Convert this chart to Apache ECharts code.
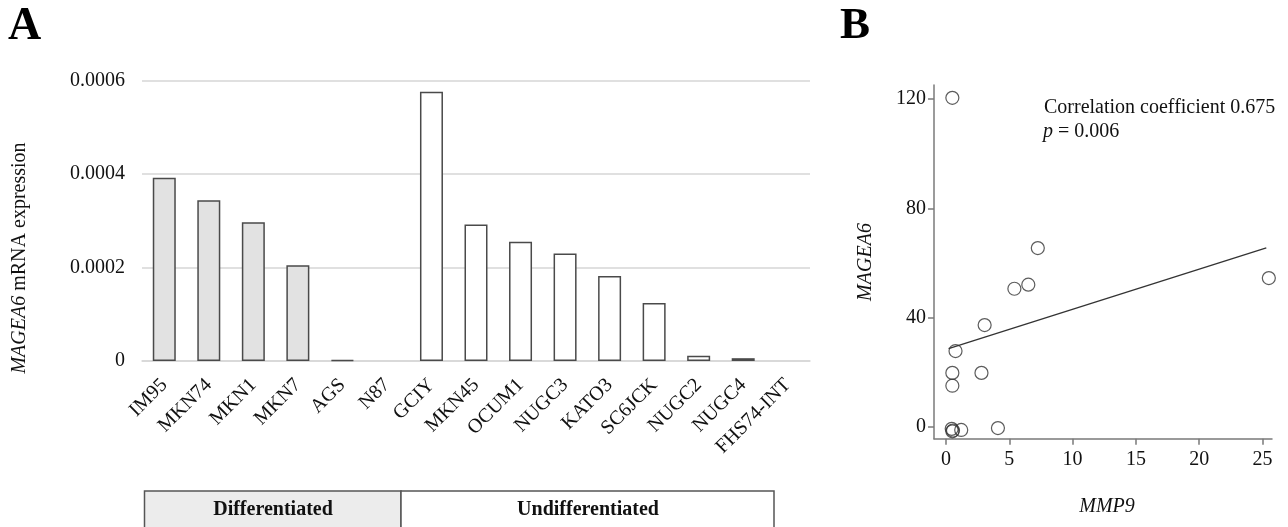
<!DOCTYPE html>
<html>
<head>
<meta charset="utf-8">
<script src="https://cdn.jsdelivr.net/npm/echarts@6/dist/echarts.min.js"></script>
<style>
  html, body { margin: 0; padding: 0; background: #fff; }
  #chart { width: 1288px; height: 527px; }
</style>
</head>
<body>
<div id="chart"></div>
<script>
// panel A: MAGEA6 mRNA in gastric cancer cell lines
const cellLines = ['IM95', 'MKN74', 'MKN1', 'MKN7', 'AGS', 'N87', 'GCIY', 'MKN45', 'OCUM1', 'NUGC3', 'KATO3', 'SC6JCK', 'NUGC2', 'NUGC4', 'FHS74-INT']
const expression = [0.000392, 0.000344, 0.000297, 0.000205, 0.000002, 0, 0.000576, 0.000292, 0.000255, 0.00023, 0.000182, 0.000124, 0.000011, 0.000006, 0]
const differentiatedCount = 6 // first 6 lines are differentiated
const groupLabels = ['Differentiated', 'Undifferentiated']

// panel B: MMP9 vs MAGEA6
const mmp9 = [0.5, 7.25, 25.5, 6.5, 5.4, 3.05, 0.75, 0.5, 2.8, 0.5, 0.45, 0.55, 1.2, 4.1, 0.5]
const magea6 = [120.5, 65.5, 54.5, 52.1, 50.6, 37.3, 27.8, 19.8, 19.8, 15.1, -0.7, -1.3, -1.1, -0.4, -1.6]
const fitLine = [[0.2, 28.7], [25.3, 65.6]]
const xTicksB = [0, 5, 10, 15, 20, 25]
const yTicksB = [0, 40, 80, 120]
const corrText = 'Correlation coefficient 0.675'
const pText = '0.006'

const serif = 'Liberation Serif'

let chart = echarts.init(document.getElementById('chart'))

let barData = expression.map((v, i) => ({
  value: v,
  itemStyle: {
    color: i < differentiatedCount ? '#e2e2e2' : '#ffffff',
    borderColor: '#4a4a4a',
    borderWidth: v === 0 ? 0 : 1.5
  }
}))

let option = {
  animation: false,
  backgroundColor: '#fff',
  grid: [
    { left: 142, right: 478, top: 80.5, bottom: 166 },
    { left: 934, right: 16, top: 85, bottom: 88.3 }
  ],
  xAxis: [
    {
      type: 'category',
      gridIndex: 0,
      data: cellLines,
      axisLine: { lineStyle: { color: '#d6d6d6', width: 1.5 } },
      axisTick: { show: false },
      axisLabel: {
        rotate: 45,
        interval: 0,
        margin: 21,
        color: '#111',
        fontFamily: serif,
        fontSize: 20
      }
    },
    {
      type: 'value',
      gridIndex: 1,
      min: -0.95,
      max: 25.75,
      splitLine: { show: false },
      axisLine: { onZero: false, lineStyle: { color: '#7a7a7a', width: 1.5 } },
      axisTick: { customValues: xTicksB, length: 6, lineStyle: { color: '#7a7a7a', width: 1.5 } },
      axisLabel: { customValues: xTicksB, margin: 11, color: '#111', fontFamily: serif, fontSize: 20 }
    }
  ],
  yAxis: [
    {
      type: 'value',
      gridIndex: 0,
      min: 0,
      max: 0.0006,
      interval: 0.0002,
      axisLine: { show: false },
      axisTick: { show: false },
      splitLine: { lineStyle: { color: '#d6d6d6', width: 1.5 } },
      axisLabel: {
        margin: 17,
        color: '#111',
        fontFamily: serif,
        fontSize: 20,
        formatter: function (v) { return v === 0 ? '0' : v.toFixed(4) }
      }
    },
    {
      type: 'value',
      gridIndex: 1,
      min: -4.3,
      max: 125.2,
      splitLine: { show: false },
      axisLine: { onZero: false, lineStyle: { color: '#7a7a7a', width: 1.5 } },
      axisTick: { customValues: yTicksB, length: 6, lineStyle: { color: '#7a7a7a', width: 1.5 } },
      axisLabel: { customValues: yTicksB, margin: 8, color: '#111', fontFamily: serif, fontSize: 20 }
    }
  ],
  series: [
    {
      type: 'bar',
      xAxisIndex: 0,
      yAxisIndex: 0,
      barWidth: 23,
      data: barData
    },
    {
      type: 'scatter',
      xAxisIndex: 1,
      yAxisIndex: 1,
      symbol: 'circle',
      symbolSize: 13,
      itemStyle: { color: 'rgba(255,255,255,0)', borderColor: '#333', borderWidth: 1.2 },
      data: mmp9.map((x, i) => [x, magea6[i]])
    },
    {
      type: 'line',
      xAxisIndex: 1,
      yAxisIndex: 1,
      symbol: 'none',
      lineStyle: { color: '#333', width: 1.3 },
      data: fitLine
    }
  ],
  graphic: [
    {
      type: 'text', left: 8, top: 4,
      style: { text: 'A', font: 'bold 46px "Liberation Serif"', fill: '#000' }
    },
    {
      type: 'text', left: 840, top: 4,
      style: { text: 'B', font: 'bold 45px "Liberation Serif"', fill: '#000' }
    },
    {
      // y axis name, panel A
      type: 'text', x: 20, y: 258, rotation: Math.PI / 2,
      style: {
        text: '{i|MAGEA6} mRNA expression',
        align: 'center', verticalAlign: 'middle',
        font: '20px "Liberation Serif"', fill: '#111',
        rich: { i: { fontStyle: 'italic', fontFamily: serif, fontSize: 20 } }
      }
    },
    // group box under the bars
    {
      type: 'rect',
      shape: { x: 144.5, y: 491, width: 256.5, height: 45 },
      style: { fill: '#ececec', stroke: '#555', lineWidth: 1.5 }
    },
    {
      type: 'rect',
      shape: { x: 401, y: 491, width: 373, height: 45 },
      style: { fill: '#fff', stroke: '#555', lineWidth: 1.5 }
    },
    {
      type: 'text', x: 273, y: 510,
      style: { text: groupLabels[0], align: 'center', verticalAlign: 'middle', font: 'bold 20px "Liberation Serif"', fill: '#111' }
    },
    {
      type: 'text', x: 588, y: 510,
      style: { text: groupLabels[1], align: 'center', verticalAlign: 'middle', font: 'bold 20px "Liberation Serif"', fill: '#111' }
    },
    // panel B annotations
    {
      type: 'text', x: 1044, y: 108,
      style: { text: corrText, align: 'left', verticalAlign: 'middle', font: '20px "Liberation Serif"', fill: '#111' }
    },
    {
      type: 'text', x: 1043, y: 132,
      style: {
        text: '{i|p} = ' + pText,
        align: 'left', verticalAlign: 'middle',
        font: '20px "Liberation Serif"', fill: '#111',
        rich: { i: { fontStyle: 'italic', fontFamily: serif, fontSize: 20 } }
      }
    },
    {
      type: 'text', x: 866, y: 262, rotation: Math.PI / 2,
      style: { text: 'MAGEA6', align: 'center', verticalAlign: 'middle', font: 'italic 20px "Liberation Serif"', fill: '#111' }
    },
    {
      type: 'text', x: 1107, y: 507,
      style: { text: 'MMP9', align: 'center', verticalAlign: 'middle', font: 'italic 20px "Liberation Serif"', fill: '#111' }
    }
  ]
}

chart.setOption(option)
</script>
</body>
</html>
